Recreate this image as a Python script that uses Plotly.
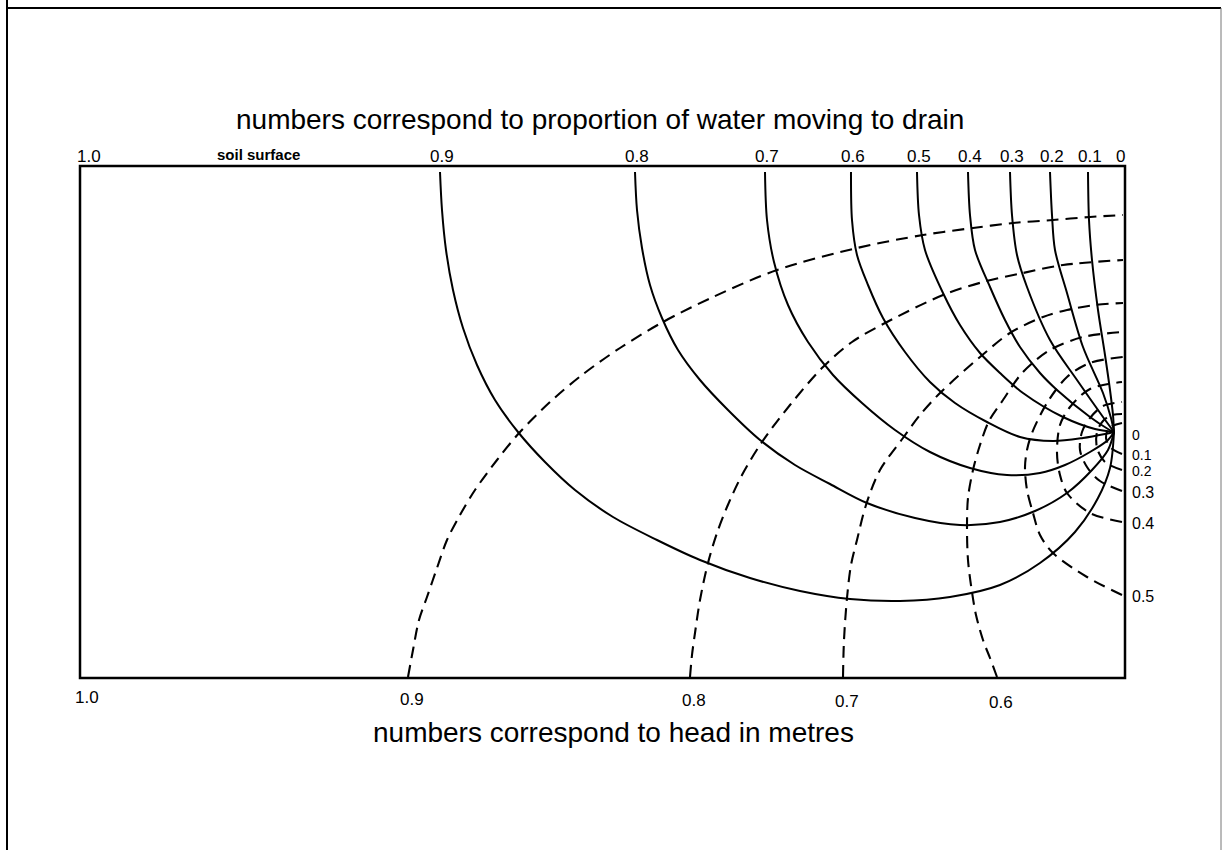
import plotly.graph_objects as go

W, H = 1227, 850
FONT = "Liberation Sans, Arial, sans-serif"

# ---- Drain position (page units: x to the right, y downward) ----
DRAIN = [(1114, 432)]

# ---- Streamlines: proportion of water moving to the drain ----
FLOW_LABELS = ["0.9", "0.8", "0.7", "0.6", "0.5", "0.4", "0.3", "0.2", "0.1"]
FLOW_09 = [(440, 172), (442, 210), (446, 250), (453, 290), (463, 328), (477, 365),
           (495, 400), (518, 432), (545, 462), (575, 490), (613, 517), (657, 540),
           (700, 560), (750, 578), (800, 591), (850, 599), (900, 601), (950, 597),
           (1000, 585), (1040, 563), (1075, 532), (1098, 498), (1110, 468)]
FLOW_08 = [(635, 172), (637, 210), (642, 248), (650, 285), (662, 318), (678, 350),
           (700, 380), (728, 410), (760, 440), (795, 465), (830, 484), (867, 503),
           (915, 518), (960, 525), (1000, 522), (1035, 511), (1067, 493), (1092, 470),
           (1108, 450)]
FLOW_07 = [(765, 172), (767, 220), (774, 262), (788, 305), (808, 342), (833, 375),
           (862, 403), (895, 430), (930, 452), (970, 468), (1007, 475), (1040, 473),
           (1065, 465), (1090, 452), (1108, 440)]
FLOW_06 = [(851, 172), (852, 220), (857, 255), (868, 285), (883, 318), (905, 352),
           (930, 382), (955, 403), (987, 422), (1020, 437), (1053, 441), (1083, 438),
           (1105, 434)]
FLOW_05 = [(917, 172), (919, 215), (925, 250), (943, 293), (960, 325), (980, 353),
           (1000, 373), (1023, 393), (1063, 417), (1095, 429)]
FLOW_04 = [(968, 172), (970, 215), (975, 250), (990, 287), (1005, 320), (1020, 347),
           (1040, 373), (1057, 390), (1090, 417), (1108, 429)]
FLOW_03 = [(1010, 172), (1012, 215), (1017, 255), (1027, 287), (1050, 340),
           (1077, 380), (1103, 417)]
FLOW_02 = [(1050, 172), (1052, 215), (1055, 250), (1067, 293), (1083, 347),
           (1103, 393), (1111, 418)]
FLOW_01 = [(1088, 172), (1089, 220), (1092, 260), (1098, 310), (1105, 355),
           (1110, 390), (1113, 415)]

# ---- Equipotentials: head in metres ----
HEAD_09 = [(408, 677), (413, 650), (419, 620), (427, 597), (437, 568), (447, 540),
           (460, 515), (475, 490), (497, 460), (520, 432), (550, 402), (582, 375),
           (620, 348), (663, 322), (713, 297), (777, 270), (857, 248), (923, 235),
           (973, 228), (1013, 223), (1053, 220), (1090, 217), (1123, 215)]
HEAD_08 = [(690, 677), (692, 655), (695, 633), (700, 600), (708, 563), (717, 533),
           (727, 507), (742, 475), (762, 442), (790, 405), (823, 367), (852, 342),
           (887, 322), (943, 295), (983, 282), (1023, 273), (1063, 265), (1123, 260)]
HEAD_07 = [(843, 677), (844, 640), (847, 598), (851, 565), (857, 540), (866, 505),
           (880, 470), (903, 438), (920, 415), (940, 393), (980, 357), (1010, 333),
           (1043, 317), (1067, 310), (1095, 305), (1123, 303)]
HEAD_06 = [(997, 677), (990, 658), (983, 640), (976, 615), (972, 592), (968, 560),
           (967, 526), (968, 498), (973, 470), (980, 445), (989, 421), (1003, 400),
           (1023, 372), (1050, 350), (1083, 337), (1123, 332)]
HEAD_05 = [(1122, 595), (1087, 577), (1053, 553), (1040, 535), (1033, 513),
           (1027, 490), (1025, 467), (1027, 450), (1032, 433), (1047, 403),
           (1067, 377), (1090, 363), (1123, 357)]
HEAD_04 = [(1122, 522), (1090, 513), (1067, 493), (1060, 475), (1057, 453),
           (1060, 425), (1070, 407), (1090, 389), (1122, 382)]
HEAD_03 = [(1122, 491), (1100, 481), (1087, 467), (1080, 450), (1082, 432),
           (1090, 418), (1103, 406), (1122, 402)]
HEAD_02 = [(1122, 470), (1105, 462), (1097, 448), (1097, 432), (1103, 421),
           (1112, 415), (1122, 414)]
HEAD_01 = [(1122, 454), (1111, 448), (1106, 438), (1109, 428), (1122, 423)]

BOTTOM_HEAD_LABELS = ["0.9", "0.8", "0.7", "0.6"]
RIGHT_HEAD_LABELS = ["0.1", "0.2", "0.3", "0.4", "0.5"]

TOP_TITLE = "numbers correspond to proportion of water moving to drain"
BOTTOM_TITLE = "numbers correspond to head in metres"

# ---- Layout frame ----
BOX = dict(x0=80, y0=166, x1=1125, y1=678)

fig = go.Figure()


def add_curve(points, dashed):
    xs = [p[0] for p in points]
    ys = [p[1] for p in points]
    fig.add_trace(go.Scatter(
        x=xs, y=ys, mode="lines", hoverinfo="skip", showlegend=False,
        line=dict(color="black", width=2.1 if dashed else 2.0,
                  dash="12px,7px" if dashed else "solid",
                  shape="spline", smoothing=0.9),
    ))


flows = [FLOW_09, FLOW_08, FLOW_07, FLOW_06, FLOW_05, FLOW_04, FLOW_03, FLOW_02, FLOW_01]
for f in flows:
    add_curve(f + DRAIN, dashed=False)

heads_bottom = [HEAD_09, HEAD_08, HEAD_07, HEAD_06]
heads_right = [HEAD_01, HEAD_02, HEAD_03, HEAD_04, HEAD_05]
for h in heads_bottom + heads_right:
    add_curve(h, dashed=True)

# page border and soil section box
shapes = [
    dict(type="line", x0=7, y0=0, x1=7, y1=H, line=dict(color="black", width=2)),
    dict(type="line", x0=7, y0=8, x1=1221, y1=8, line=dict(color="black", width=2)),
    dict(type="line", x0=1221, y0=8, x1=1221, y1=H, line=dict(color="#777", width=1)),
    dict(type="rect", **BOX, line=dict(color="black", width=2.5)),
]

ann = []


def label(x, y, text, size=17, xanchor="center", bold=False, pad=1):
    ann.append(dict(x=x, y=y, text=f"<b>{text}</b>" if bold else text,
                    showarrow=False, xanchor=xanchor, yanchor="middle", borderpad=pad,
                    font=dict(family=FONT, size=size, color="black")))


label(600, 119, TOP_TITLE, size=28)
label(613, 732, BOTTOM_TITLE, size=28)

# top: streamline values at the soil surface
label(89, 156, "1.0")
label(258, 154, "soil surface", size=15, bold=True)
for f, t in zip(flows, FLOW_LABELS):
    label(f[0][0] + 2, 156, t)
label(BOX["x1"] - 5, 156, "0")

# bottom: head values where the equipotentials meet the base
label(87, 697, "1.0")
for h, t in zip(heads_bottom, BOTTOM_HEAD_LABELS):
    label(h[0][0] + 4, 699 + 0.006 * (h[0][0] - 400), t)

# right side: head values below the drain
label(1131, DRAIN[0][1] + 3, "0", size=14, xanchor="left", pad=0)
for h, t in zip(heads_right, RIGHT_HEAD_LABELS):
    label(1131, h[0][1] + 1, t, size=14 if t in ("0.1", "0.2") else 16,
          xanchor="left", pad=0)

fig.update_layout(
    width=W, height=H,
    margin=dict(l=0, r=0, t=0, b=0),
    paper_bgcolor="white", plot_bgcolor="white",
    xaxis=dict(range=[0, W], visible=False, fixedrange=True),
    yaxis=dict(range=[H, 0], visible=False, fixedrange=True),
    shapes=shapes, annotations=ann,
)

fig.write_html("out.html")
